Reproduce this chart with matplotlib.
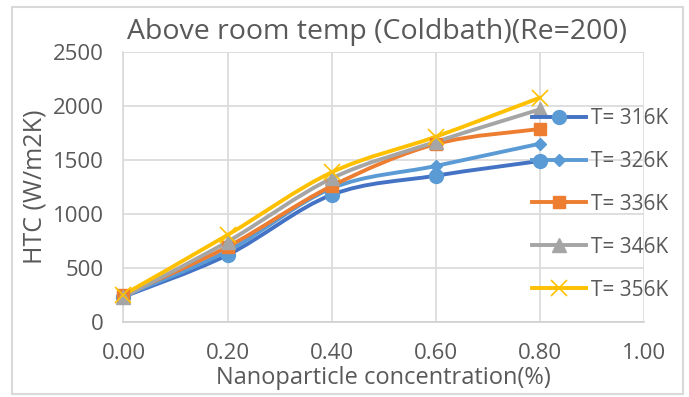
import numpy as np
import matplotlib
matplotlib.use("Agg")
import matplotlib.pyplot as plt
from matplotlib.path import Path
from matplotlib.patches import PathPatch, Rectangle
from matplotlib.lines import Line2D

# HTC vs nanoparticle concentration, one series per bath temperature
concentration = [0.0, 0.2, 0.4, 0.6, 0.8]
htc_316 = [231, 618, 1175, 1352, 1488]
htc_326 = [236, 655, 1235, 1442, 1648]
htc_336 = [245, 694, 1256, 1645, 1784]
htc_346 = [228, 741, 1327, 1665, 1966]
htc_356 = [250, 803, 1383, 1713, 2074]
series_labels = ["T= 316K", "T= 326K", "T= 336K", "T= 346K", "T= 356K"]

TEXT = "#595959"
GRID = "#D9D9D9"
plt.rcParams['font.family'] = ['Open Sans', 'DejaVu Sans']

# line colour, marker, marker size, marker colour
styles = [
    ("#4472C4", "o", 10, "#5B9BD5"),
    ("#5B9BD5", "D", 6.5, "#5B9BD5"),
    ("#ED7D31", "s", 8.5, "#ED7D31"),
    ("#A5A5A5", "^", 10, "#A5A5A5"),
    ("#FFC000", "x", 11, "#FFC000"),
]


def smooth_path(xs, ys):
    # bezier segments like the "smoothed line" option in a spreadsheet
    pts = np.column_stack([xs, ys]).astype(float)
    n = len(pts)
    verts = [pts[0]]
    codes = [Path.MOVETO]
    for i in range(n - 1):
        p0 = pts[max(i - 1, 0)]
        p1 = pts[i]
        p2 = pts[i + 1]
        p3 = pts[min(i + 2, n - 1)]
        verts += [p1 + (p2 - p0) / 6, p2 - (p3 - p1) / 6, p2]
        codes += [Path.CURVE4] * 3
    return Path(verts, codes)


fig = plt.figure(figsize=(6.89, 3.97), dpi=100)
ax = fig.add_axes([0.1792, 0.1897, 0.7555, 0.6801])

handles = []
for ys, (lc, mk, ms, mc), lab in zip([htc_316, htc_326, htc_336, htc_346, htc_356], styles, series_labels):
    ax.add_patch(PathPatch(smooth_path(concentration, ys), fill=False, edgecolor=lc,
                           lw=2.8, capstyle='round', joinstyle='round', zorder=3))
    mew = 1.2 if mk == "x" else 1
    ax.plot(concentration, ys, ls='none', marker=mk, ms=ms, color=mc, mew=mew, zorder=4, clip_on=False)
    handles.append(Line2D([], [], color=lc, lw=2.8, marker=mk, ms=ms, mfc=mc, mec=mc, mew=mew, label=lab))

ax.set_xlim(0, 1)
ax.set_ylim(0, 2500)
ax.set_xticks(np.arange(0, 1.01, 0.2))
ax.set_yticks(np.arange(0, 2501, 500))
ax.xaxis.set_major_formatter(matplotlib.ticker.FormatStrFormatter("%.2f"))
ax.grid(True, color=GRID, lw=1.2)
ax.set_axisbelow(True)
for s in ax.spines.values():
    s.set_visible(False)
ax.spines['left'].set_visible(True)
ax.spines['bottom'].set_visible(True)
ax.spines['left'].set_color(GRID)
ax.spines['bottom'].set_color("#CFCFCF")
ax.spines['left'].set_linewidth(1.2)
ax.spines['bottom'].set_linewidth(1.2)
ax.tick_params(length=0, labelsize=16, colors=TEXT)
ax.tick_params(axis='x', pad=15)
ax.tick_params(axis='y', pad=14)

ax.set_title("Above room temp (Coldbath)(Re=200)", fontsize=20.5, color=TEXT, pad=9, x=0.488)
ax.set_xlabel("Nanoparticle concentration(%)", fontsize=17, color=TEXT, labelpad=2)
ax.set_ylabel("HTC (W/m2K)", fontsize=18, color=TEXT, labelpad=4)

ax.legend(handles=handles, loc='upper left', bbox_to_anchor=(532 / 689, 1 - 108 / 397),
          bbox_transform=fig.transFigure, frameon=False, borderpad=0, borderaxespad=0,
          handlelength=2.6, handletextpad=0.25, labelspacing=1.05, fontsize=15,
          labelcolor=TEXT, numpoints=1)

fig.patches.append(Rectangle((12 / 689, 1 - 394 / 397), 671 / 689, 387 / 397, fill=False,
                             edgecolor=GRID, lw=1.5, transform=fig.transFigure, figure=fig))

fig.savefig("out.png", dpi=100)
